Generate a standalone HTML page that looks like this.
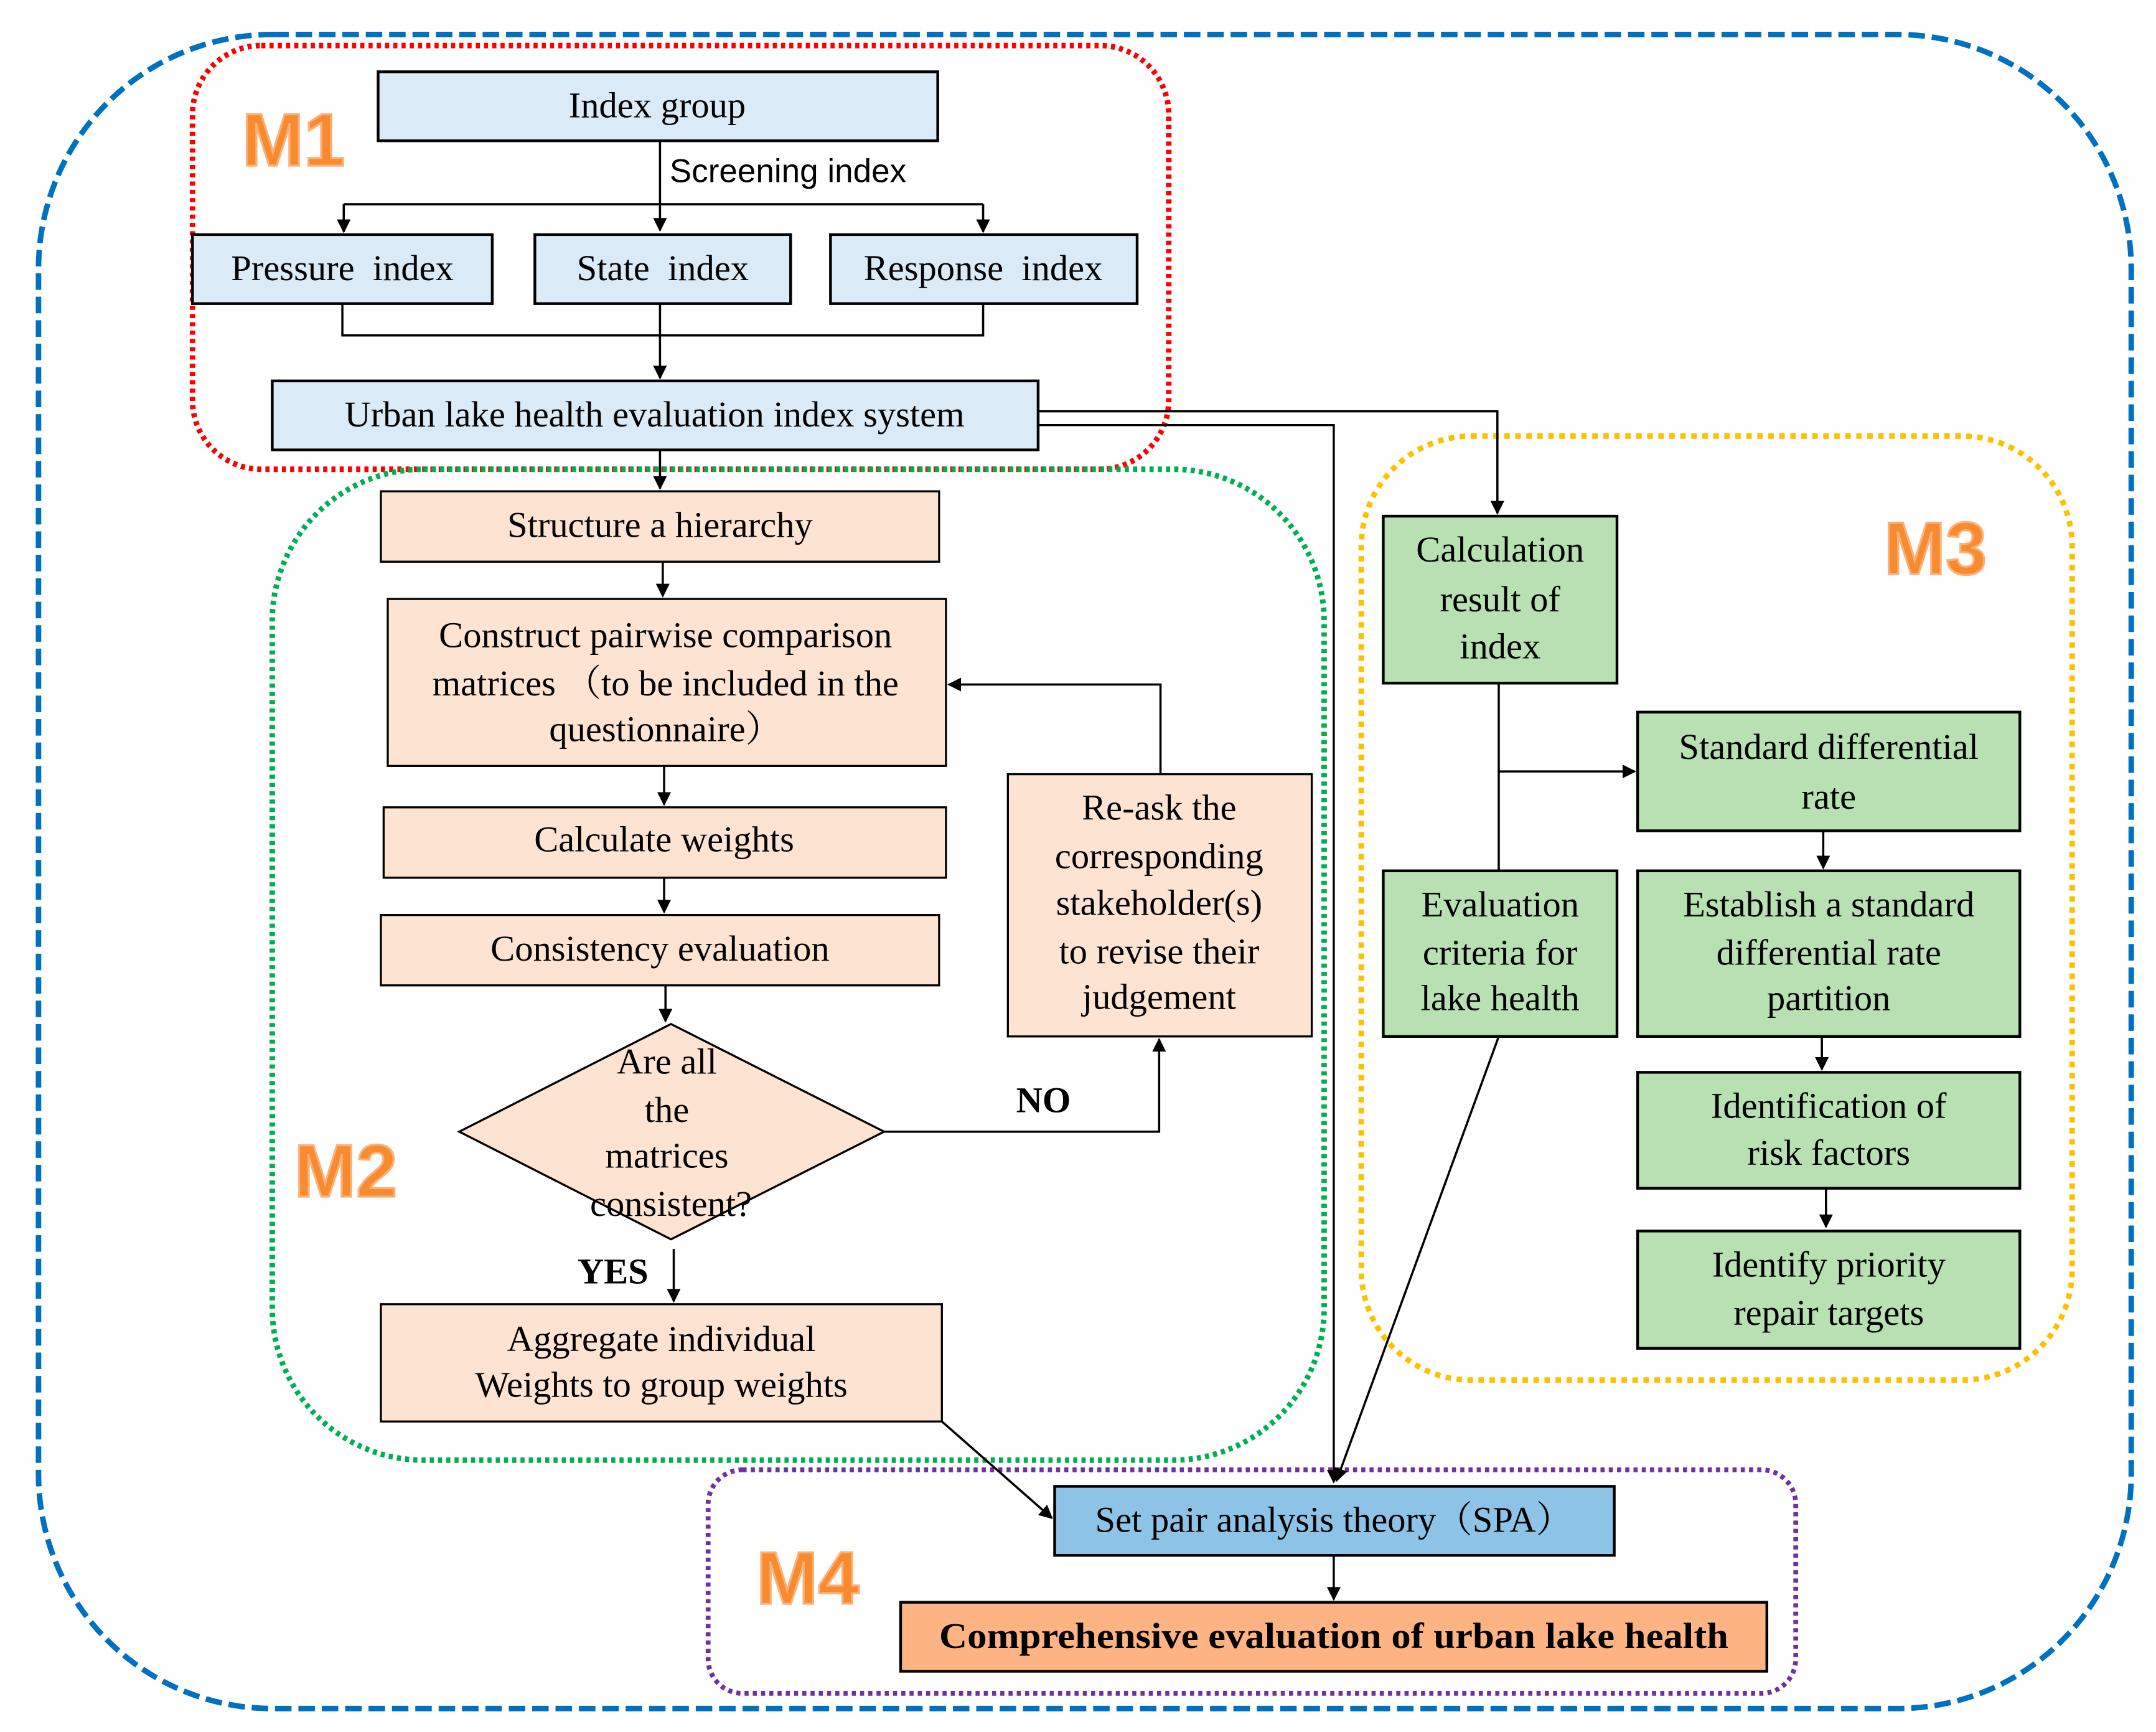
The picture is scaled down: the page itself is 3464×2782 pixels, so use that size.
<!DOCTYPE html>
<html><head><meta charset="utf-8"><style>
html,body{margin:0;padding:0;background:#fff;}
svg{display:block;}
text{font-family:"Liberation Serif","Noto Serif CJK SC",serif;font-size:26.5px;fill:#000;}
.m{font-family:"Liberation Sans",sans-serif;font-weight:bold;font-size:54px;fill:#f98a2e;stroke:#fbb27a;stroke-width:1.5;}
.b{fill:#dbeaf7;stroke:#000;stroke-width:2;}
.p{fill:#fde3d2;stroke:#000;stroke-width:1.5;}
.g{fill:#b9e0b3;stroke:#000;stroke-width:2;}
.l{stroke:#000;stroke-width:1.6;fill:none;}
</style></head><body>
<svg width="3464" height="2782" viewBox="0 0 1568 1255" preserveAspectRatio="none" xmlns="http://www.w3.org/2000/svg">
<defs><marker id="a" markerWidth="10" markerHeight="10" refX="9" refY="5" orient="auto" markerUnits="userSpaceOnUse"><path d="M0,0 L10,5 L0,10 z" fill="#000"/></marker></defs>
<rect x="28" y="25" width="1522" height="1213" rx="170" fill="none" stroke="#0070c0" stroke-width="4" stroke-dasharray="12,5"/>
<rect x="140" y="33" width="710" height="307" rx="50" fill="none" stroke="#ff0000" stroke-width="4" stroke-dasharray="3,3"/>
<rect x="198" y="340" width="765" height="718" rx="110" fill="none" stroke="#00b050" stroke-width="4" stroke-dasharray="3,3"/>
<rect x="990" y="316" width="517" height="684" rx="80" fill="none" stroke="#ffc000" stroke-width="4" stroke-dasharray="4,4"/>
<rect x="515" y="1065" width="791" height="162" rx="25" fill="none" stroke="#7030a0" stroke-width="3.5" stroke-dasharray="3,3"/>
<text class="m" x="176" y="120">M1</text>
<text class="m" x="214" y="867">M2</text>
<text class="m" x="1370" y="416">M3</text>
<text class="m" x="550" y="1162">M4</text>
<rect class="b" x="275" y="52" width="407" height="50"/><text x="478" y="85" text-anchor="middle">Index group</text>
<rect class="b" x="140" y="170" width="218" height="50"/><text x="249" y="203" text-anchor="middle" xml:space="preserve">Pressure  index</text>
<rect class="b" x="389" y="170" width="186" height="50"/><text x="482" y="203" text-anchor="middle" xml:space="preserve">State  index</text>
<rect class="b" x="604" y="170" width="223" height="50"/><text x="715" y="203" text-anchor="middle" xml:space="preserve">Response  index</text>
<rect class="b" x="198" y="276" width="557" height="50"/><text x="476" y="309" text-anchor="middle">Urban lake health evaluation index system</text>
<text x="487" y="132" style="font-family:'Liberation Sans',sans-serif;font-size:24px">Screening index</text>
<path class="l" d="M480,102 V167" marker-end="url(#a)"/>
<path class="l" d="M250,148 H715"/>
<path class="l" d="M250,148 V168" marker-end="url(#a)"/>
<path class="l" d="M715,148 V168" marker-end="url(#a)"/>
<path class="l" d="M249,220 V243 H715 V220"/>
<path class="l" d="M480,220 V274" marker-end="url(#a)"/>
<path class="l" d="M755,298 H1089 V372" marker-end="url(#a)"/>
<path class="l" d="M755,308 H970 V1074" marker-end="url(#a)"/>
<path class="l" d="M480,326 V354" marker-end="url(#a)"/>
<rect class="p" x="277" y="356" width="406" height="51"/><text x="480" y="389" text-anchor="middle">Structure a hierarchy</text>
<rect class="p" x="282" y="434" width="406" height="121"/>
<text x="484" y="469" text-anchor="middle">Construct pairwise comparison</text>
<text x="484" y="504" text-anchor="middle">matrices （to be included in the</text>
<text x="484" y="537" text-anchor="middle">questionnaire）</text>
<rect class="p" x="279" y="585" width="409" height="51"/><text x="483" y="617" text-anchor="middle">Calculate weights</text>
<rect class="p" x="277" y="663" width="406" height="51"/><text x="480" y="696" text-anchor="middle">Consistency evaluation</text>
<path class="p" d="M334,820 L488,742 L643,820 L488,898 Z"/>
<text x="485" y="778" text-anchor="middle">Are all</text>
<text x="485" y="813" text-anchor="middle">the</text>
<text x="485" y="846" text-anchor="middle">matrices</text>
<text x="488" y="881" text-anchor="middle">consistent?</text>
<rect class="p" x="733" y="561" width="221" height="190"/>
<text x="843" y="594" text-anchor="middle">Re-ask the</text>
<text x="843" y="629" text-anchor="middle">corresponding</text>
<text x="843" y="663" text-anchor="middle">stakeholder(s)</text>
<text x="843" y="698" text-anchor="middle">to revise their</text>
<text x="843" y="731" text-anchor="middle">judgement</text>
<rect class="p" x="277" y="945" width="408" height="85"/>
<text x="481" y="979" text-anchor="middle">Aggregate individual</text>
<text x="481" y="1012" text-anchor="middle">Weights to group weights</text>
<text x="739" y="806" style="font-weight:bold">NO</text>
<text x="420" y="930" style="font-weight:bold">YES</text>
<path class="l" d="M482,407 V432" marker-end="url(#a)"/>
<path class="l" d="M483,555 V583" marker-end="url(#a)"/>
<path class="l" d="M483,636 V661" marker-end="url(#a)"/>
<path class="l" d="M484,714 V740" marker-end="url(#a)"/>
<path class="l" d="M844,561 V496 H690" marker-end="url(#a)"/>
<path class="l" d="M643,820 H843 V753" marker-end="url(#a)"/>
<path class="l" d="M490,905 V943" marker-end="url(#a)"/>
<path class="l" d="M685,1030 L765,1100" marker-end="url(#a)"/>
<rect class="g" x="1006" y="374" width="170" height="121"/>
<text x="1091" y="407" text-anchor="middle">Calculation</text>
<text x="1091" y="443" text-anchor="middle">result of</text>
<text x="1091" y="477" text-anchor="middle">index</text>
<rect class="g" x="1191" y="516" width="278" height="86"/>
<text x="1330" y="550" text-anchor="middle">Standard differential</text>
<text x="1330" y="586" text-anchor="middle">rate</text>
<rect class="g" x="1006" y="631" width="170" height="120"/>
<text x="1091" y="664" text-anchor="middle">Evaluation</text>
<text x="1091" y="699" text-anchor="middle">criteria for</text>
<text x="1091" y="732" text-anchor="middle">lake health</text>
<rect class="g" x="1191" y="631" width="278" height="120"/>
<text x="1330" y="664" text-anchor="middle">Establish a standard</text>
<text x="1330" y="699" text-anchor="middle">differential rate</text>
<text x="1330" y="732" text-anchor="middle">partition</text>
<rect class="g" x="1191" y="777" width="278" height="84"/>
<text x="1330" y="810" text-anchor="middle">Identification of</text>
<text x="1330" y="844" text-anchor="middle">risk factors</text>
<rect class="g" x="1191" y="892" width="278" height="85"/>
<text x="1330" y="925" text-anchor="middle">Identify priority</text>
<text x="1330" y="960" text-anchor="middle">repair targets</text>
<path class="l" d="M1090,495 V631"/>
<path class="l" d="M1090,559 H1189" marker-end="url(#a)"/>
<path class="l" d="M1326,602 V629" marker-end="url(#a)"/>
<path class="l" d="M1325,751 V775" marker-end="url(#a)"/>
<path class="l" d="M1328,861 V889" marker-end="url(#a)"/>
<path class="l" d="M1090,751 L972,1073" marker-end="url(#a)"/>
<rect x="767" y="1077" width="407" height="50" fill="#8dc3e6" stroke="#000" stroke-width="2"/>
<text x="970" y="1110" text-anchor="middle">Set pair analysis theory（SPA）</text>
<rect x="655" y="1161" width="630" height="50" fill="#fdb382" stroke="#000" stroke-width="2"/>
<text x="970" y="1194" text-anchor="middle" style="font-weight:bold" textLength="574" lengthAdjust="spacingAndGlyphs">Comprehensive evaluation of urban lake health</text>
<path class="l" d="M970,1127 V1159" marker-end="url(#a)"/>
</svg>
</body></html>
